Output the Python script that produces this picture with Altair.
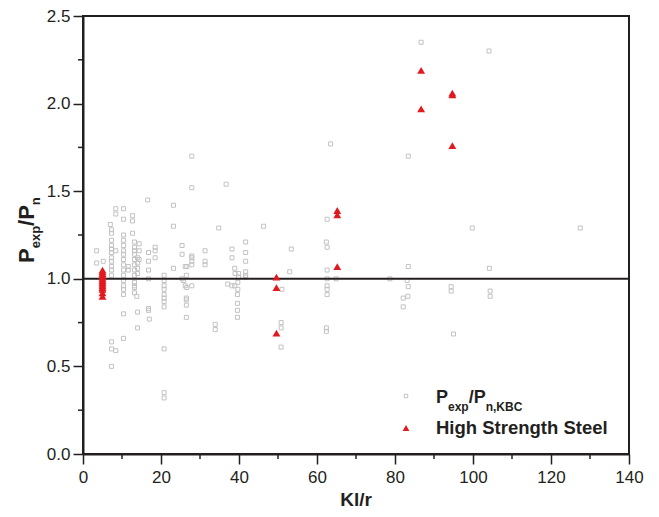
import altair as alt
import pandas as pd

# ---------------- data ----------------
gray_x = [3.5, 3.5, 5.2, 7.0,
          7.3, 7.3, 7.3, 7.3, 7.3, 7.3, 7.3, 7.3, 7.3, 7.3, 7.3, 7.3, 7.3, 7.3,
          8.4, 8.4, 8.4, 8.4,
          10.4, 10.4, 10.4, 10.4, 10.4, 10.4, 10.4, 10.4, 10.4, 10.4, 10.4, 10.4, 10.4, 10.4, 10.4, 10.4, 10.4,
          11.6, 11.6, 12.7, 12.7, 12.7,
          13.2, 13.2, 13.2, 13.2, 13.2, 13.2, 13.2, 13.2, 13.2, 13.2, 13.2, 13.2,
          13.8, 14.0, 14.0, 14.0, 14.0, 14.0, 14.0, 14.4, 14.4, 14.4,
          16.6, 16.8, 16.8, 16.8, 16.8, 16.8, 16.8, 17.0,
          18.5, 18.5, 18.5,
          20.8, 20.8, 20.8, 20.8, 20.8, 20.8, 20.8, 20.8, 20.8, 20.8, 20.8,
          23.2, 23.2, 23.2, 25.4, 25.4, 25.4, 25.8, 26.2, 26.2,
          26.5, 26.5, 26.5, 26.5, 26.5, 26.6, 26.6,
          27.9, 27.9, 27.9, 27.9, 27.9, 27.9, 27.9,
          31.3, 31.3, 31.3, 33.9, 33.9, 34.8, 36.7, 37.1,
          38.2, 38.2, 38.2, 38.9, 38.9, 39.0,
          39.6, 39.6, 39.6, 39.6, 39.7, 39.7, 39.9, 39.9,
          41.7, 41.7, 41.7, 41.7, 41.7, 41.7,
          46.3, 50.8, 50.8, 50.8, 51.0, 53.0, 53.4,
          62.4, 62.4, 62.4, 62.6, 62.6, 62.6, 62.6, 62.6, 62.6, 62.6,
          63.5, 64.9, 78.7, 82.1, 82.1, 83.1, 83.3, 83.4, 83.4, 83.4,
          86.7, 94.4, 94.4, 95.0, 99.8, 104.1, 104.2, 104.4, 104.4, 127.5]
gray_y = [1.16, 1.09, 1.10, 1.31,
          1.28, 1.26, 1.22, 1.19, 1.17, 1.15, 1.12, 1.10, 1.07, 1.05, 1.02, 0.64, 0.60, 0.50,
          1.40, 1.37, 1.16, 0.59,
          1.40, 1.34, 1.25, 1.22, 1.19, 1.16, 1.14, 1.11, 1.08, 1.05, 1.02, 0.99, 0.96, 0.94, 0.91, 0.80, 0.66,
          1.07, 1.05, 1.36, 1.33, 1.26,
          1.21, 1.18, 1.16, 1.14, 1.11, 1.08, 1.05, 1.02, 0.98, 0.96, 0.95, 0.92,
          0.90, 0.81, 0.72, 1.12, 1.09, 1.06, 1.03, 1.20, 1.16, 1.11,
          1.45, 1.15, 1.10, 1.05, 1.00, 0.83, 0.82, 0.77,
          1.18, 1.16, 1.12,
          1.02, 0.99, 0.96, 0.94, 0.91, 0.89, 0.87, 0.84, 0.60, 0.35, 0.32,
          1.42, 1.30, 1.06, 1.19, 1.14, 1.00, 0.99, 1.07, 0.96,
          1.02, 0.89, 0.88, 0.85, 0.78, 1.07, 0.95,
          1.70, 1.52, 1.13, 1.12, 1.10, 1.08, 0.96,
          1.16, 1.10, 1.08, 0.74, 0.71, 1.29, 1.54, 0.97,
          1.17, 1.12, 0.96, 1.06, 0.96, 1.03,
          0.91, 0.86, 0.82, 0.78, 0.98, 0.94, 1.03, 1.01,
          1.21, 1.15, 1.10, 1.04, 1.02, 1.01,
          1.30, 0.75, 0.72, 0.61, 0.94, 1.04, 1.17,
          1.21, 0.72, 0.70, 1.34, 1.18, 1.05, 1.00, 0.96, 0.94, 0.91,
          1.77, 1.00, 1.00, 0.89, 0.84, 0.99, 0.90, 1.70, 1.07, 0.955,
          2.35, 0.955, 0.93, 0.685, 1.29, 2.30, 1.06, 0.93, 0.90, 1.29]

red_x = [5, 5, 5, 5, 5, 5, 5, 5, 5, 5, 5, 5, 5, 5,
         49.6, 49.6, 49.6, 65.2, 65.2, 65.2, 86.7, 86.7, 94.7, 94.7, 94.7]
red_y = [1.05, 1.04, 1.03, 1.02, 1.01, 1.00, 0.99, 0.98, 0.97, 0.96, 0.95, 0.94, 0.92, 0.90,
         1.01, 0.95, 0.69, 1.39, 1.365, 1.07, 2.19, 1.97, 2.06, 2.05, 1.76]

x_major = [0, 20, 40, 60, 80, 100, 120, 140]
x_minor = [10, 30, 50, 70, 90, 110, 130]
y_major = [0.0, 0.5, 1.0, 1.5, 2.0, 2.5]
y_minor = [0.25, 0.75, 1.25, 1.75, 2.25]
ref_line = [1.0]

# ---------------- styling ----------------
W, H = 546, 438
L, T = 83, 16
FONT = "Liberation Sans"
INK = "#231f20"
GRAY = "#c2c2c2"
RED = "#e3191f"

xs = alt.Scale(domain=[0, 140], nice=False, zero=False)
ys = alt.Scale(domain=[0, 2.5], nice=False, zero=False)

gray_df = pd.DataFrame({"kl_r": gray_x, "ratio": gray_y})
red_df = pd.DataFrame({"kl_r": red_x, "ratio": red_y})

gray_pts = alt.Chart(gray_df).mark_point(
    shape="square", filled=False, size=16, color=GRAY, strokeWidth=1, opacity=1
).encode(
    x=alt.X("kl_r:Q", scale=xs, title=None,
            axis=alt.Axis(values=x_major, format="d", tickSize=10, labelPadding=5)),
    y=alt.Y("ratio:Q", scale=ys, title=None,
            axis=alt.Axis(values=y_major, format=".1f", tickSize=10, labelPadding=3)),
)

hline = alt.Chart(pd.DataFrame({"ratio": ref_line})).mark_rule(
    color=INK, strokeWidth=2
).encode(y=alt.Y("ratio:Q", scale=ys, title=None))

red_pts = alt.Chart(red_df).mark_point(
    shape="triangle-up", filled=True, size=62, color=RED, opacity=1, strokeWidth=0
).encode(
    x=alt.X("kl_r:Q", scale=xs, title=None),
    y=alt.Y("ratio:Q", scale=ys, title=None),
)

xminor = alt.Chart(pd.DataFrame({"kl_r": x_minor})).mark_rule(
    color=INK, strokeWidth=1.5
).encode(x=alt.X("kl_r:Q", scale=xs, title=None), y=alt.value(H), y2=alt.value(H + 5))

yminor = alt.Chart(pd.DataFrame({"ratio": y_minor})).mark_rule(
    color=INK, strokeWidth=1.5
).encode(y=alt.Y("ratio:Q", scale=ys, title=None), x=alt.value(0), x2=alt.value(-5))


def label(s, px, py, size, bold=True, angle=None, align="left", baseline="alphabetic", color=INK):
    kw = dict(font=FONT, fontSize=size, fontWeight="bold" if bold else "normal",
              align=align, baseline=baseline, color=color)
    if angle is not None:
        kw["angle"] = angle
    return alt.Chart(pd.DataFrame({"t": [s]})).mark_text(**kw).encode(
        text="t:N", x=alt.value(px - L), y=alt.value(py - T)
    )


# x title
xtitle = label("Kl/r", (L + L + W) / 2, 500, 19, baseline="middle", align="center")

# y title  P_exp / P_n  (rotated, reading bottom to top)
YB = 34
ySub = YB + 6
F, S = 22, 13
y0 = 263
ytitle = [
    label("P", YB, y0, F, angle=270),
    label("exp", ySub, y0 - 0.667 * F, S, angle=270),
    label("/P", YB, y0 - 0.667 * F - 1.723 * S, F, angle=270),
    label("n", ySub, y0 - 0.667 * F - 1.723 * S - 0.945 * F, S, angle=270),
]

# legend
LF, LS = 18, 12
lx = 436
legend_txt = [
    label("P", lx, 403, LF),
    label("exp", lx + 0.667 * LF, 411, LS),
    label("/P", lx + 0.667 * LF + 1.723 * LS, 403, LF),
    label("n,KBC", lx + 0.667 * LF + 1.723 * LS + 0.945 * LF, 411, LS),
    label("High Strength Steel", lx, 433.5, 18.5),
]
leg_sq = alt.Chart(pd.DataFrame({"t": ["a"]})).mark_point(
    shape="square", filled=False, size=12, color=GRAY, strokeWidth=1, opacity=1
).encode(x=alt.value(406 - L), y=alt.value(396 - T))
leg_tri = alt.Chart(pd.DataFrame({"t": ["b"]})).mark_point(
    shape="triangle-up", filled=True, size=45, color=RED, opacity=1, strokeWidth=0
).encode(x=alt.value(406 - L), y=alt.value(428 - T))

chart = alt.layer(
    gray_pts, hline, red_pts, xminor, yminor, xtitle, *ytitle, *legend_txt, leg_sq, leg_tri
).properties(
    width=W, height=H,
    autosize=alt.AutoSizeParams(type="none"),
    padding={"left": L, "top": T, "right": 659 - L - W, "bottom": 517 - T - H},
    background="white",
).configure_view(
    stroke=INK, strokeWidth=2
).configure_axis(
    grid=False, domainColor=INK, domainWidth=2, tickColor=INK, tickWidth=1.5,
    labelFont=FONT, labelFontSize=17, labelColor=INK, labelFlush=False,
)

chart.save("out.html", embed_options={"renderer": "svg", "actions": False})
